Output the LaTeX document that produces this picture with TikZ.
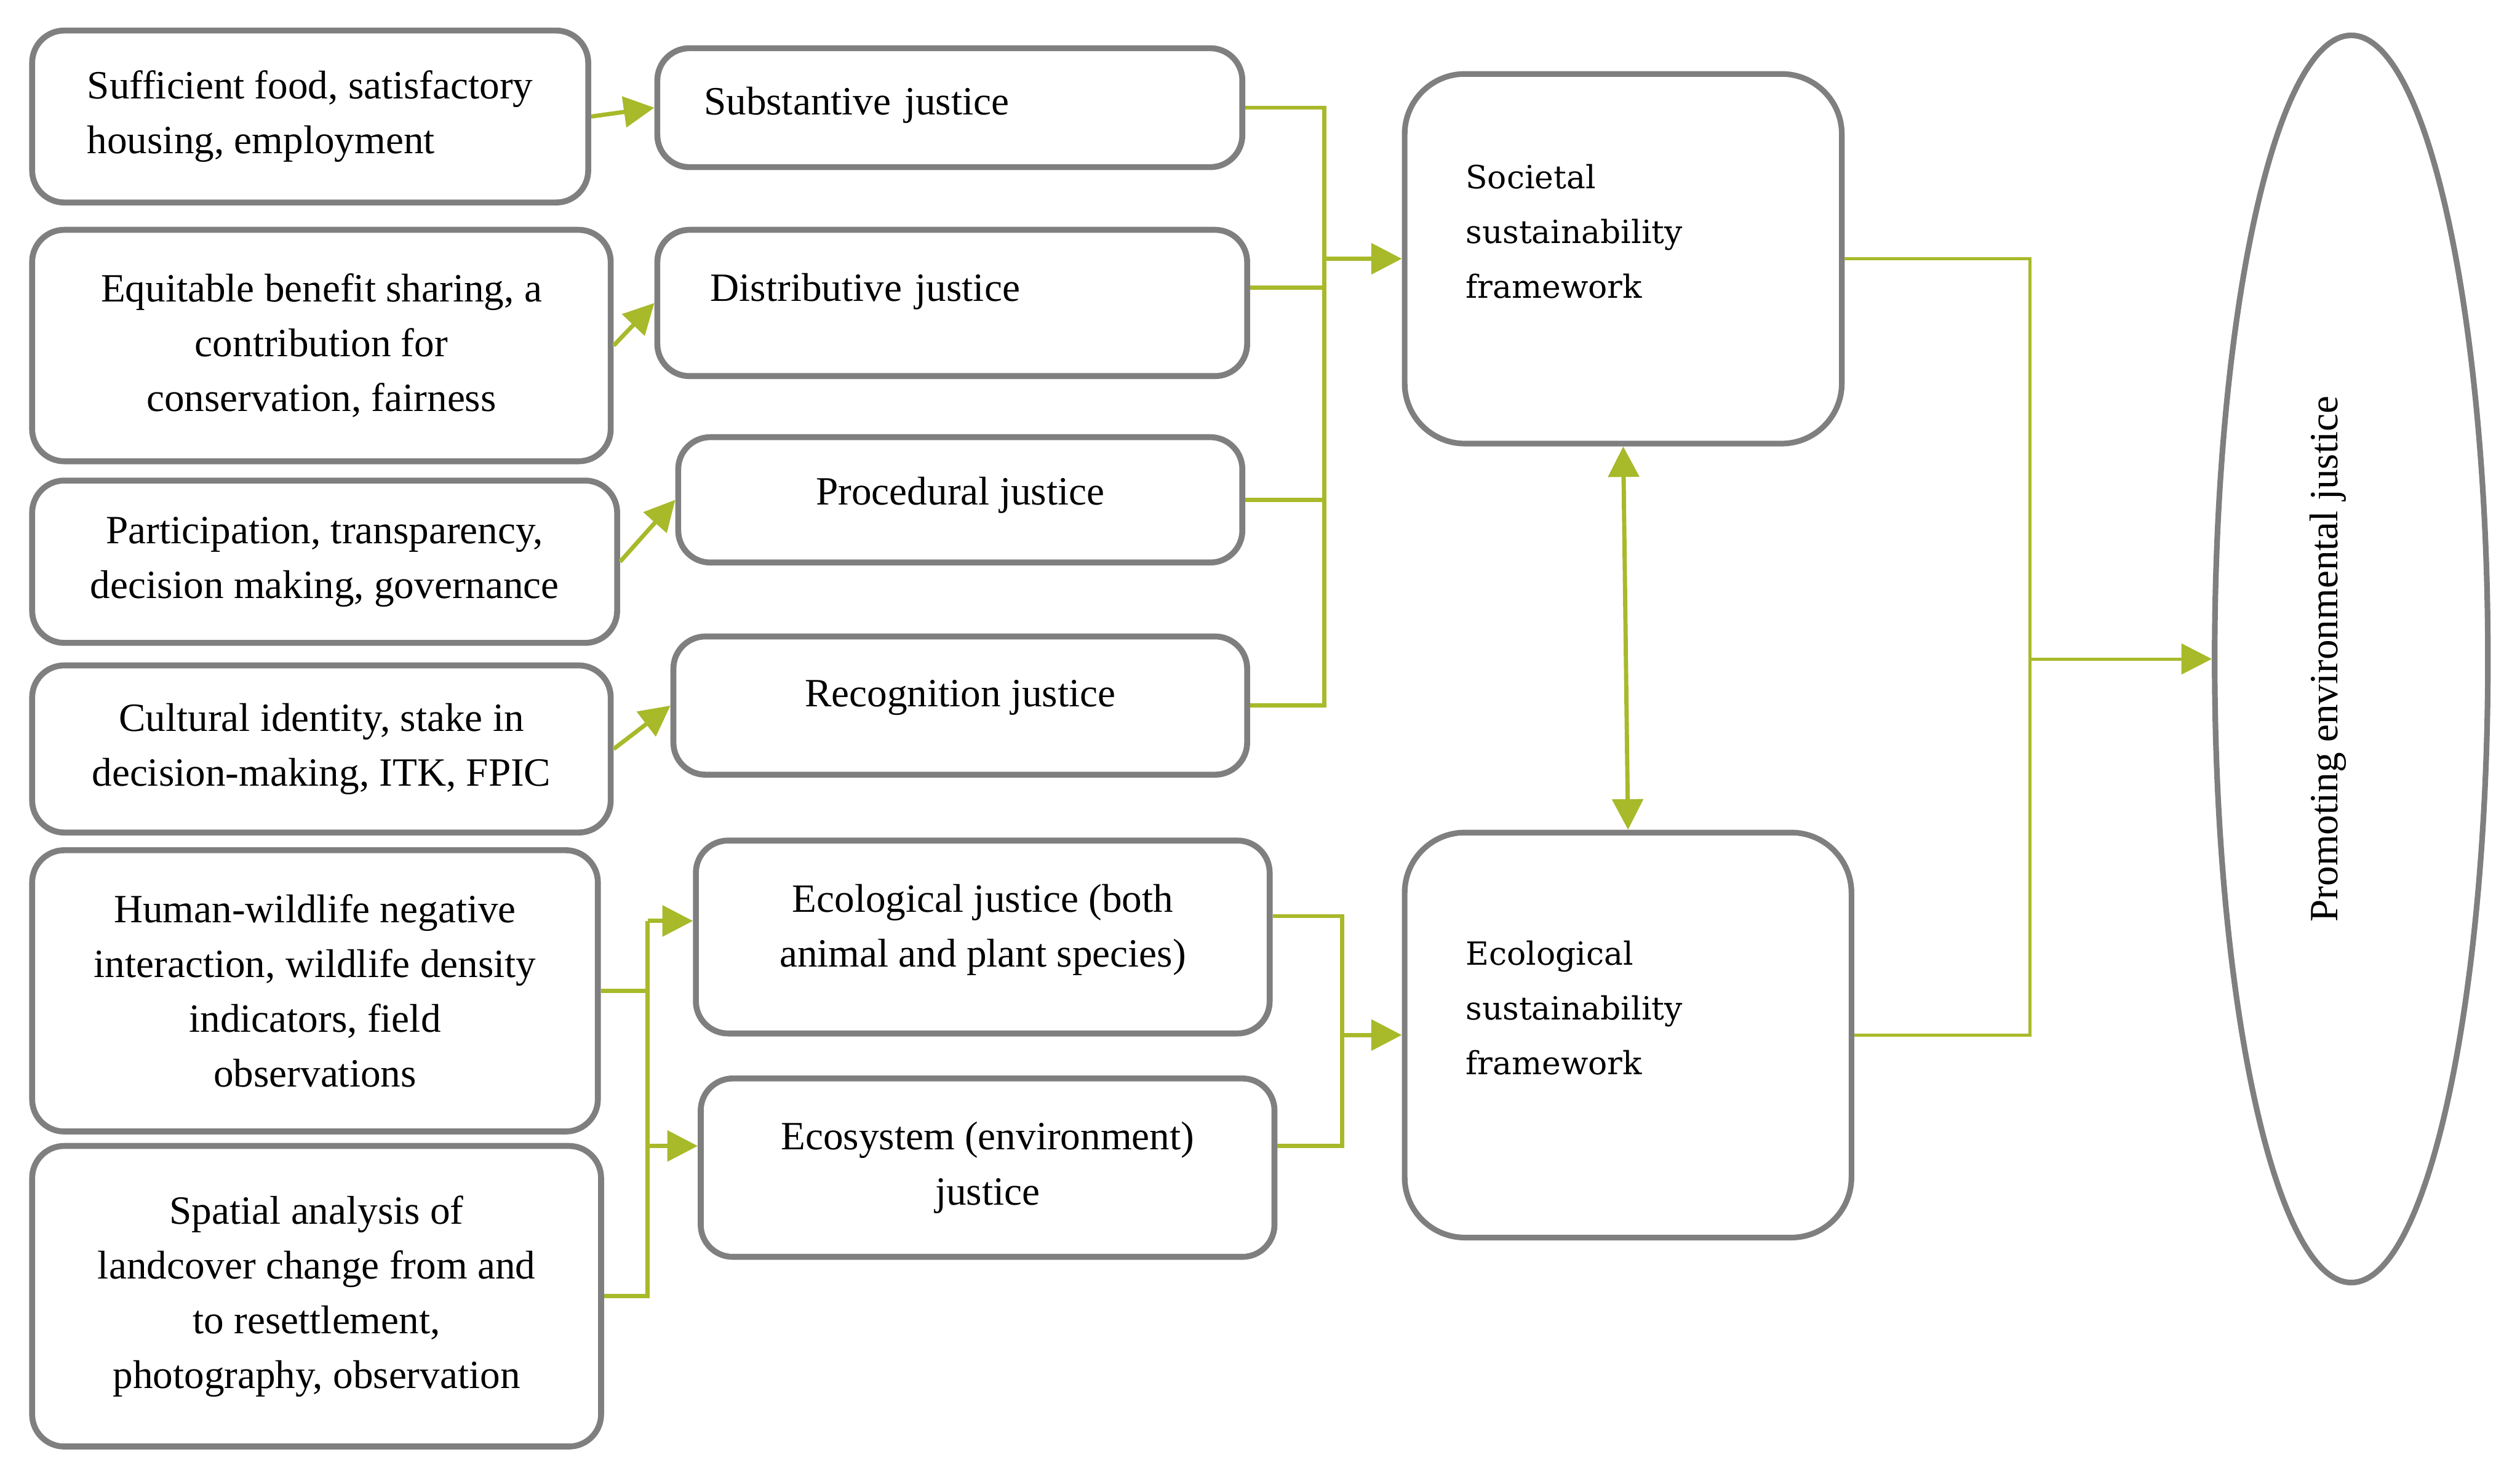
\documentclass[tikz,border=0pt]{standalone}
\usepackage{fontspec}
\setmainfont{Liberation Serif}
\newfontfamily\wideserif{DejaVu Serif}
\usepackage{tikz}
\usetikzlibrary{shapes.geometric, arrows.meta}
\definecolor{frame}{HTML}{7F7F7F}
\definecolor{leaf}{HTML}{A8B92A}
\tikzstyle{block}      = [rectangle, rounded corners=0.4cm, draw=frame, line width=2.1pt,
                          align=center, font=\fontsize{14.2}{19.4}\selectfont]
\tikzstyle{frameblock} = [rectangle, rounded corners=0.75cm, draw=frame, line width=2pt,
                          align=left, font=\wideserif\fontsize{11.3}{19.4}\selectfont]
\tikzstyle{goalshape}  = [ellipse, draw=frame, line width=2pt, rotate=90, align=center,
                          font=\fontsize{14.2}{19.4}\selectfont]
\tikzstyle{link}       = [line width=1.5pt, color=leaf]
\tikzstyle{arrow}      = [-{Triangle[length=0.38cm, width=0.38cm]}, line width=1.5pt, color=leaf]
\tikzstyle{biarrow}    = [{Triangle[length=0.38cm, width=0.38cm]}-{Triangle[length=0.38cm, width=0.38cm]},
                          line width=1.5pt, color=leaf]

\begin{document}
\begin{tikzpicture}

  \useasboundingbox (0,0) rectangle (31.36,-18.36);

  %% Indicators
  \node[block, minimum width=6.92cm, minimum height=2.14cm, align=left] (food) at (3.86,-1.45)
        {Sufficient food, satisfactory\\housing, employment};
  \node[block, minimum width=7.20cm, minimum height=2.88cm] (benefit) at (4.00,-4.30)
        {Equitable benefit sharing, a\\contribution for\\conservation, fairness};
  \node[block, minimum width=7.28cm, minimum height=2.02cm] (particip) at (4.04,-6.99)
        {Participation, transparency,\\decision making, governance};
  \node[block, minimum width=7.20cm, minimum height=2.08cm] (culture) at (4.00,-9.32)
        {Cultural identity, stake in\\decision-making, ITK, FPIC};
  \node[block, minimum width=7.04cm, minimum height=3.50cm] (wildlife) at (3.92,-12.33)
        {Human-wildlife negative\\interaction, wildlife density\\indicators, field\\observations};
  \node[block, minimum width=7.08cm, minimum height=3.74cm] (spatial) at (3.94,-16.13)
        {Spatial analysis of\\landcover change from and\\to resettlement,\\photography, observation};

  %% Justice dimensions
  \node[block, minimum width=7.28cm, minimum height=1.48cm, text width=6.12cm, align=left,
        text depth=5pt] (subst) at (11.82,-1.34) {Substantive justice};
  \node[block, minimum width=7.34cm, minimum height=1.82cm, text width=6.02cm, align=left,
        text depth=11pt] (distr) at (11.85,-3.77) {Distributive justice};
  \node[block, minimum width=7.02cm, minimum height=1.56cm, text depth=6.5pt] (proc)
        at (11.95,-6.22) {Procedural justice};
  \node[block, minimum width=7.14cm, minimum height=1.72cm, text depth=8.8pt] (recog)
        at (11.95,-8.78) {Recognition justice};
  \node[block, minimum width=7.14cm, minimum height=2.40cm, text depth=8pt] (ecoj)
        at (12.23,-11.66) {Ecological justice (both\\animal and plant species)};
  \node[block, minimum width=7.14cm, minimum height=2.22cm] (ecosys) at (12.29,-14.53)
        {Ecosystem (environment)\\justice};

  %% Frameworks
  \node[frameblock, minimum width=5.44cm, minimum height=4.60cm, text width=3.92cm]
        (societal) at (20.20,-3.22) {Societal\\sustainability\\framework\\\mbox{}};
  \node[frameblock, minimum width=5.56cm, minimum height=5.04cm, text width=4.04cm]
        (ecolog) at (20.26,-12.88) {Ecological\\sustainability\\framework\\\mbox{}};

  %% Goal
  \node[goalshape, minimum width=15.52cm, minimum height=3.40cm] (goal) at (29.26,-8.20)
        {Promoting environmental justice\\\mbox{}};

  %% Bus lines
  \coordinate (sbus) at (16.48,0);
  \coordinate (lbus) at (8.06,0);
  \coordinate (ebus) at (16.70,0);
  \coordinate (rbus) at (25.26,0);

  %% Arrows
  \draw[arrow] (food.east) -- (subst.west);
  \draw[arrow] (benefit.east) -- (distr.west);
  \draw[arrow] (particip.east) -- (proc.west);
  \draw[arrow] (culture.east) -- (recog.west);

  \draw[link] (subst.east) -- (subst.east -| sbus) -- (recog.east -| sbus) -- (recog.east);
  \draw[link] ([yshift=0.19cm]distr.east) -- ([yshift=0.19cm]distr.east -| sbus);
  \draw[link] (proc.east) -- (proc.east -| sbus);
  \draw[arrow] (societal.west -| sbus) -- (societal.west);

  \draw[link] (wildlife.east) -- (wildlife.east -| lbus);
  \draw[link] (spatial.east) -- (spatial.east -| lbus) -- ([yshift=0.2cm]ecoj.west -| lbus);
  \draw[arrow] ([yshift=0.2cm]ecoj.west -| lbus) -- ([yshift=0.2cm]ecoj.west);
  \draw[arrow] ([yshift=0.27cm]ecosys.west -| lbus) -- ([yshift=0.27cm]ecosys.west);

  \draw[link] ([yshift=0.26cm]ecoj.east) -- ([yshift=0.26cm]ecoj.east -| ebus)
              -- ([yshift=0.27cm]ecosys.east -| ebus) -- ([yshift=0.27cm]ecosys.east);
  \draw[arrow] (ecolog.west -| ebus) -- (ecolog.west);

  \draw[biarrow] (societal.south) -- (ecolog.north);

  \draw[link, line width=1.1pt] (societal.east) -- (societal.east -| rbus)
              -- (ecolog.east -| rbus) -- (ecolog.east);
  \draw[arrow, line width=1.1pt] (goal.north -| rbus) -- (goal.north);

\end{tikzpicture}
\end{document}
